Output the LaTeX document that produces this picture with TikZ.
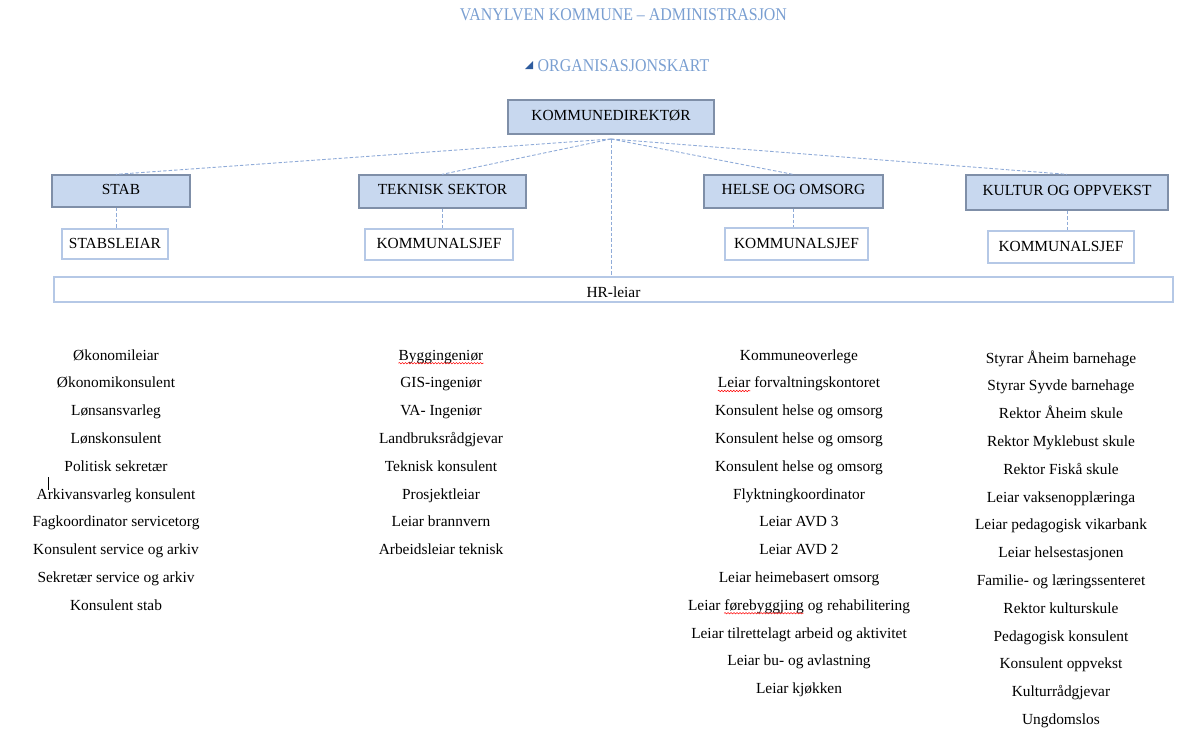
\documentclass[tikz,border=0pt]{standalone}
\usepackage{fontspec}
\setmainfont{Liberation Serif}
\newfontfamily\titlefont[FakeStretch=0.89]{Liberation Serif}
\usetikzlibrary{decorations.pathmorphing}
\definecolor{titleblue}{HTML}{7A9FD1}
\definecolor{tridark}{HTML}{2E5C9E}
\definecolor{sectorfill}{HTML}{C8D8EF}
\definecolor{sectordraw}{HTML}{7F8FA8}
\definecolor{leaderdraw}{HTML}{B5C8E6}
\definecolor{dashblue}{HTML}{8FABD8}
\begin{document}
\begin{tikzpicture}[x=1pt,y=-1pt,
  every node/.style={font=\fontsize{15.4}{18}\selectfont},
  sector/.style={draw=sectordraw, fill=sectorfill, line width=1.3pt, inner sep=0pt, text height=10.5pt, text depth=4pt},
  leader/.style={draw=leaderdraw, fill=white, line width=1.2pt, inner sep=0pt, text height=10.5pt, text depth=2pt},
  conn/.style={draw=dashblue, dash pattern=on 3.5pt off 2pt, line width=0.9pt},
  item/.style={anchor=base, inner sep=0pt},
  titletext/.style={anchor=base, inner sep=0pt, text=titleblue, font=\titlefont\fontsize{17.9}{21}\selectfont},
  squiggle/.style={draw=red, line width=0.5pt, decorate, decoration={snake, amplitude=0.7pt, segment length=3pt}}]
\useasboundingbox (0,0) rectangle (1200,740);

% titles
\node[titletext] (title) at (623.5,20.5) {VANYLVEN KOMMUNE – ADMINISTRASJON};
\node[titletext] (org) at (623.5,71.5) {ORGANISASJONSKART};
\fill[tridark] (525,69) -- (533,69) -- (533,61) -- cycle;

% boxes
\node[sector, minimum width=206pt, minimum height=34pt] (kd) at (611,117) {KOMMUNEDIREKTØR};
\node[sector, minimum width=138pt, minimum height=32pt] (stab) at (121,191) {STAB};
\node[sector, minimum width=167pt, minimum height=33pt] (tek) at (442.5,191.5) {TEKNISK SEKTOR};
\node[sector, minimum width=179pt, minimum height=33pt] (hel) at (793.5,191.5) {HELSE OG OMSORG};
\node[sector, minimum width=202pt, minimum height=35pt] (kul) at (1067,192.5) {KULTUR OG OPPVEKST};

\node[leader, minimum width=106pt, minimum height=30pt] (sl) at (115,244) {STABSLEIAR};
\node[leader, minimum width=148pt, minimum height=31pt] (ks1) at (439,244.5) {KOMMUNALSJEF};
\node[leader, minimum width=143pt, minimum height=32pt] (ks2) at (796.5,244) {KOMMUNALSJEF};
\node[leader, minimum width=146pt, minimum height=32pt] (ks3) at (1061,247) {KOMMUNALSJEF};
\node[leader, minimum width=1119pt, minimum height=25pt, text height=15.5pt, text depth=0pt] (hr) at (613.5,289.5) {HR-leiar};

% connectors
\coordinate (hub) at (611,139);
\coordinate (vstab) at (116,0);
\coordinate (vtek) at (442,0);
\coordinate (vhel) at (793,0);
\coordinate (vkul) at (1067,0);
\draw[conn] (hub) -- (vstab |- stab.north);
\draw[conn] (hub) -- (vtek |- tek.north);
\draw[conn] (hub) -- (vhel |- hel.north);
\draw[conn] (hub) -- (vkul |- kul.north);
\draw[conn] (hub) -- (hub |- hr.north);
\draw[conn] (vstab |- stab.south) -- (vstab |- sl.north);
\draw[conn] (vtek |- tek.south) -- (vtek |- ks1.north);
\draw[conn] (vhel |- hel.south) -- (vhel |- ks2.north);
\draw[conn] (vkul |- kul.south) -- (vkul |- ks3.north);

% lists
\foreach \t [count=\i] in {Økonomileiar, Økonomikonsulent, Lønsansvarleg, Lønskonsulent, Politisk sekretær, Arkivansvarleg konsulent, Fagkoordinator servicetorg, Konsulent service og arkiv, Sekretær service og arkiv, Konsulent stab}
  \node[item] (a\i) at (116,{360.2+27.78*(\i-1)}) {\t};
\foreach \t [count=\i] in {Byggingeniør, GIS-ingeniør, VA- Ingeniør, Landbruksrådgjevar, Teknisk konsulent, Prosjektleiar, Leiar brannvern, Arbeidsleiar teknisk}
  \node[item] (b\i) at (441,{360.2+27.78*(\i-1)}) {\t};
\foreach \t [count=\i] in {Kommuneoverlege, Leiar forvaltningskontoret, Konsulent helse og omsorg, Konsulent helse og omsorg, Konsulent helse og omsorg, Flyktningkoordinator, Leiar AVD 3, Leiar AVD 2, Leiar heimebasert omsorg, Leiar førebyggjing og rehabilitering, Leiar tilrettelagt arbeid og aktivitet, Leiar bu- og avlastning, Leiar kjøkken}
  \node[item] (c\i) at (799,{360.2+27.78*(\i-1)}) {\t};
\foreach \t [count=\i] in {Styrar Åheim barnehage, Styrar Syvde barnehage, Rektor Åheim skule, Rektor Myklebust skule, Rektor Fiskå skule, Leiar vaksenopplæringa, Leiar pedagogisk vikarbank, Leiar helsestasjonen, Familie- og læringssenteret, Rektor kulturskule, Pedagogisk konsulent, Konsulent oppvekst, Kulturrådgjevar, Ungdomslos}
  \node[item] (d\i) at (1061,{363.2+27.78*(\i-1)}) {\t};

% spell-check marks and cursor
\draw[squiggle] ([yshift=-3pt]b1.base west) -- ([yshift=-3pt]b1.base east);
\draw[squiggle] ([yshift=-3pt]c2.base west) -- ([yshift=-3pt,xshift=32.5pt]c2.base west);
\draw[squiggle] ([yshift=-3pt,xshift=36.3pt]c10.base west) -- ([yshift=-3pt,xshift=115.9pt]c10.base west);
\draw[line width=0.7pt] ([xshift=12pt,yshift=22pt]a6.base west) -- ([xshift=12pt,yshift=9pt]a6.base west);
\end{tikzpicture}
\end{document}
